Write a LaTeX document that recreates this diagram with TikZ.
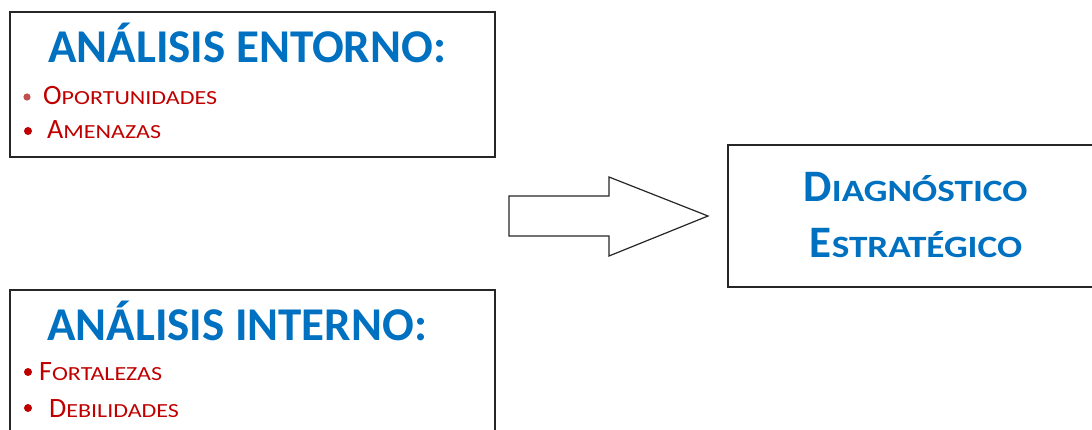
\documentclass[tikz,border=0pt]{standalone}
\usepackage{fontspec}
\setmainfont{Carlito}
\newfontfamily\scwide[FakeStretch=1.2]{Carlito}
\definecolor{tblue}{HTML}{0070C0}
\definecolor{tred}{HTML}{C00000}
\definecolor{tpink}{HTML}{C0504D}
\newcommand{\fsc}[4]{{\fontsize{#1}{#1}\selectfont #3}{\scwide\fontsize{#2}{#2}\selectfont #4}}
\begin{document}
\begin{tikzpicture}[x=1pt,y=-1pt,
  boxst/.style={draw=black!85,line width=1.3pt,inner sep=0pt},
  titlest/.style={anchor=base west,inner sep=0pt,text=tblue,font=\fontsize{47}{47}\selectfont\bfseries},
  itemst/.style={anchor=base west,inner sep=0pt,text=tred},
  diagst/.style={anchor=base,inner sep=0pt,text=tblue,font=\bfseries}]
\useasboundingbox (0,0) rectangle (1092,430);
\clip (0,0) rectangle (1092,430);
\fill[white] (0,0) rectangle (1092,430);
% boxes
\node[boxst,minimum width=485pt,minimum height=145pt] (entorno) at (252.5,84.5) {};
\node[boxst,minimum width=485pt,minimum height=150pt] (interno) at (252.5,365) {};
\node[boxst,minimum width=372pt,minimum height=142pt] (diag) at (914,216) {};
% titles
\node[titlest] (t1) at (48,63) {ANÁLISIS ENTORNO:};
\node[titlest] (t2) at (47,340) {ANÁLISIS INTERNO:};
% items
\fill[tpink] (27,97) circle (3.6pt);
\node[itemst] (o) at (43,105) {\fsc{28}{20}{O}{PORTUNIDADES}};
\fill[tred] (28,131) circle (4pt);
\node[itemst] (a) at (47,139) {\fsc{28}{20}{A}{MENAZAS}};
\fill[tred] (28,372) circle (4pt);
\node[itemst] (f) at (39,380) {\fsc{28}{20}{F}{ORTALEZAS}};
\fill[tred] (28,408) circle (4pt);
\node[itemst] (d) at (49,417) {\fsc{28}{20}{D}{EBILIDADES}};
% diagnostico
\node[diagst] (d1) at (915.5,202) {\fsc{45}{31}{D}{IAGNÓSTICO}};
\node[diagst] (d2) at (916,258) {\fsc{45}{31}{E}{STRATÉGICO}};
% block arrow
\draw[line width=1.2pt,draw=black!85,fill=white,line join=miter]
  (509,196) -- (609,196) -- (609,177) -- (708,216) -- (609,256) -- (609,236) -- (509,236) -- cycle;
\end{tikzpicture}
\end{document}
